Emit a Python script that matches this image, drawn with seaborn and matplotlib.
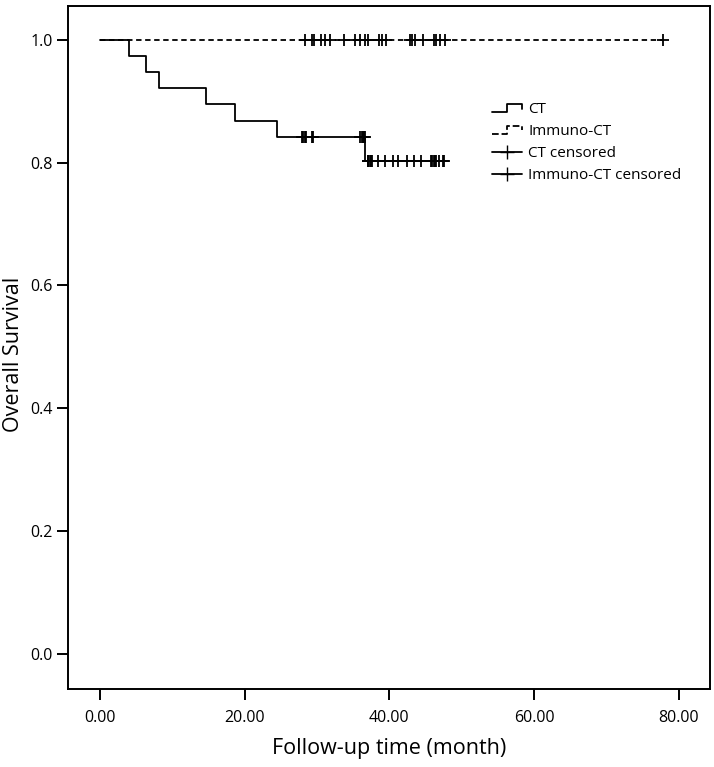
import numpy as np
import pandas as pd
import matplotlib
matplotlib.use("Agg")
import matplotlib.pyplot as plt
import seaborn as sns
from matplotlib.lines import Line2D
from matplotlib.legend_handler import HandlerBase

# CT group: event times and censored times (months)
ct_events = [4.1, 6.4, 8.2, 14.7, 18.7, 24.5, 36.7]
ct_censored = [27.9, 28.1, 28.3, 28.5, 29.3, 29.5, 36.0, 36.2, 36.4, 36.5, 36.6,
               37.0, 37.1, 37.3, 37.5, 37.6, 38.4, 39.4, 40.5, 41.2, 42.4, 43.4,
               44.4, 45.7, 45.9, 46.1, 46.3, 46.5, 46.8, 47.4, 47.6]

# Immuno-CT group: no events, all censored
imm_events = []
imm_censored = [28.3, 29.3, 29.6, 30.6, 31.1, 31.8, 33.8, 35.2, 35.9, 36.6, 37.1,
                38.6, 39.0, 39.5, 42.8, 43.1, 43.5, 44.6, 46.1, 46.5, 47.0, 47.7, 77.8]

group_labels = ["CT", "Immuno-CT", "CT censored", "Immuno-CT censored"]


def kaplan_meier(events, censored):
    all_t = np.array(sorted(events + censored))
    xs, ys = [0.0], [1.0]
    s = 1.0
    for t in sorted(set(events)):
        d = events.count(t)
        n = (all_t >= t).sum()
        s *= 1 - d / n
        xs.append(t)
        ys.append(s)
    xs.append(all_t.max())
    ys.append(s)
    curve = pd.DataFrame({"time": xs, "surv": ys})
    # survival value at each censored time
    cy = [curve.loc[curve["time"] <= c, "surv"].iloc[-1] for c in censored]
    marks = pd.DataFrame({"time": censored, "surv": cy})
    return curve, marks


class StepHandler(HandlerBase):
    def create_artists(self, legend, orig_handle, xdescent, ydescent,
                       width, height, fontsize, trans):
        x0, y0 = -xdescent, -ydescent
        xs = [x0, x0 + 0.5 * width, x0 + 0.5 * width, x0 + width, x0 + width]
        ys = [y0 + 0.15 * height, y0 + 0.15 * height, y0 + 0.85 * height,
              y0 + 0.85 * height, y0 + 0.45 * height]
        line = Line2D(xs, ys, color="black", lw=orig_handle.get_linewidth(),
                      linestyle=orig_handle.get_linestyle())
        line.set_transform(trans)
        return [line]


sns.set_style("white")
plt.rcParams["font.family"] = ["Open Sans", "DejaVu Sans"]
plt.rcParams["text.color"] = "black"
plt.rcParams["axes.labelcolor"] = "black"

ct_curve, ct_marks = kaplan_meier(ct_events, ct_censored)
imm_curve, imm_marks = kaplan_meier(imm_events, imm_censored)

fig = plt.figure(figsize=(7.14, 7.67), dpi=100)
ax = fig.add_axes([0.0952, 0.1017, 0.8992, 0.8905])

sns.lineplot(data=imm_curve, x="time", y="surv", drawstyle="steps-post",
             color="black", lw=1.3, linestyle=(0, (3, 2)), estimator=None, ax=ax)
sns.lineplot(data=ct_curve, x="time", y="surv", drawstyle="steps-post",
             color="black", lw=1.3, estimator=None, ax=ax)
sns.scatterplot(data=ct_marks, x="time", y="surv", marker="+", s=70,
                color="black", linewidth=1.3, ax=ax)
sns.scatterplot(data=imm_marks, x="time", y="surv", marker="+", s=70,
                color="black", linewidth=1.3, ax=ax)

ax.set_xlim(-4.4, 84.3)
ax.set_ylim(-0.057, 1.055)
ax.set_xticks([0, 20, 40, 60, 80])
ax.set_xticklabels(["0.00", "20.00", "40.00", "60.00", "80.00"])
ax.set_yticks([0.0, 0.2, 0.4, 0.6, 0.8, 1.0])
ax.set_yticklabels(["0.0", "0.2", "0.4", "0.6", "0.8", "1.0"])
ax.tick_params(direction="out", length=8, width=1.4, labelsize=11.5,
               bottom=True, left=True, colors="black", labelcolor="black")
ax.tick_params(axis="x", pad=7)
ax.tick_params(axis="y", pad=3)
for sp in ax.spines.values():
    sp.set_linewidth(1.4)
    sp.set_color("black")

ax.set_xlabel("Follow-up time (month)", fontsize=15.5, labelpad=9)
ax.set_ylabel("Overall Survival", fontsize=15.5)
ax.yaxis.set_label_coords(-0.068, 0.49)

handles = [Line2D([], [], color="black", lw=1.3),
           Line2D([], [], color="black", lw=1.3, linestyle=(0, (3, 2))),
           Line2D([], [], color="black", lw=1.3, marker="+", markersize=10),
           Line2D([], [], color="black", lw=1.3, marker="+", markersize=10)]
ax.legend(handles, group_labels, loc="upper left", bbox_to_anchor=(0.648, 0.87),
          frameon=False, fontsize=11, handlelength=2.0, handletextpad=0.4,
          labelspacing=0.45, borderpad=0,
          handler_map={handles[0]: StepHandler(), handles[1]: StepHandler()})

fig.savefig("out.png", dpi=100)
